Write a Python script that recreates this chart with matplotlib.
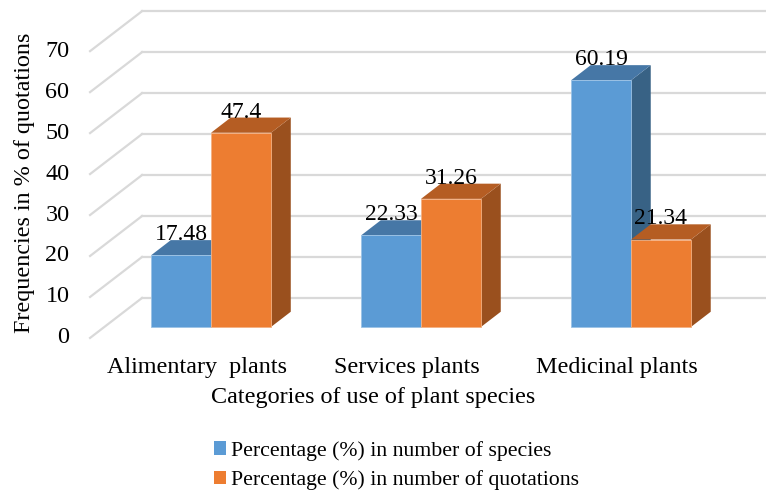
import matplotlib.pyplot as plt
from matplotlib.patches import Polygon, Patch

plt.rcParams['font.family'] = ['Liberation Serif', 'DejaVu Serif']

categories = ['Alimentary  plants', 'Services plants', 'Medicinal plants']
species_pct = [17.48, 22.33, 60.19]
quotation_pct = [47.4, 31.26, 21.34]
series_names = ['Percentage (%) in number of species',
                'Percentage (%) in number of quotations']
yticks = [0, 10, 20, 30, 40, 50, 60, 70]

# face colours: front, top, side
blue = ('#5B9BD5', '#4677A6', '#386285')
orange = ('#ED7D31', '#B55D23', '#9A501E')
grid_col = '#D9D9D9'
FS = 17.4

# oblique projection: full floor depth shifts x/value by (DX, DY)
DX, DY = 0.2476, 9.76
BAR_FRONT = 0.275
BAR_DEPTH = 0.38
BAR_W = 0.2857
WALL_LEFT = -0.508


def proj(x, v, d):
    return (x + (d - BAR_FRONT) * DX, v + (d - BAR_FRONT) * DY)


def draw_bar(ax, x0, h, cols, edge):
    x1 = x0 + BAR_W
    d0, d1 = BAR_FRONT, BAR_FRONT + BAR_DEPTH
    front = [proj(x0, 0, d0), proj(x1, 0, d0), proj(x1, h, d0), proj(x0, h, d0)]
    top = [proj(x0, h, d0), proj(x1, h, d0), proj(x1, h, d1), proj(x0, h, d1)]
    side = [proj(x1, 0, d0), proj(x1, 0, d1), proj(x1, h, d1), proj(x1, h, d0)]
    ax.add_patch(Polygon(side, closed=True, fc=cols[2], ec='none', zorder=3))
    ax.add_patch(Polygon(top, closed=True, fc=cols[1], ec='none', zorder=3))
    ax.add_patch(Polygon(front, closed=True, fc=cols[0], ec=edge, lw=0.6, zorder=3))
    tx, ty = proj(x0 + BAR_W / 2, h, d1)
    ax.text(x0 + BAR_W / 2, ty, f'{h:g}', ha='center', va='baseline',
            fontsize=17, zorder=5)


fig = plt.figure(figsize=(7.66, 4.9), dpi=100)
ax = fig.add_axes([0, 0, 1, 1])
ax.set_xlim(-1.005, 2.643)
ax.set_ylim(-39.8, 79.8)
ax.axis('off')

# back wall gridlines and floor-side diagonals
for t in yticks:
    bx, by = proj(WALL_LEFT, t, 1)
    ax.plot([bx, 2.7], [by, by], color=grid_col, lw=1.6, zorder=1)
    fx, fy = proj(WALL_LEFT, t, 0)
    ax.plot([fx, bx], [fy, by], color=grid_col, lw=1.6, zorder=1)
    ax.text(fx - 0.098, fy, str(t), ha='right', va='center', fontsize=FS)

for i in range(len(categories)):
    draw_bar(ax, i - BAR_W, species_pct[i], blue, '#9CC3E6')
    draw_bar(ax, i, quotation_pct[i], orange, '#F4B183')
    cx, cy = proj(i, 0, 0)
    ax.text(cx, -10, categories[i], ha='center', va='center', fontsize=FS)

ax.text(0.771, -17.3, 'Categories of use of plant species', ha='center', va='center',
        fontsize=FS)
ax.text(-0.886, 35.1, 'Frequencies in % of quotations', ha='center', va='center',
        rotation=90, fontsize=FS)

handles = [Patch(fc=blue[0], ec='none'), Patch(fc=orange[0], ec='none')]
ax.legend(handles, series_names, loc='upper left', bbox_to_anchor=(0.279, 0.1),
          frameon=False, fontsize=15.7, handlelength=0.55, handleheight=0.6,
          handletextpad=0.25, labelspacing=0.43, borderaxespad=0, borderpad=0)

fig.savefig('out.png', dpi=100)
